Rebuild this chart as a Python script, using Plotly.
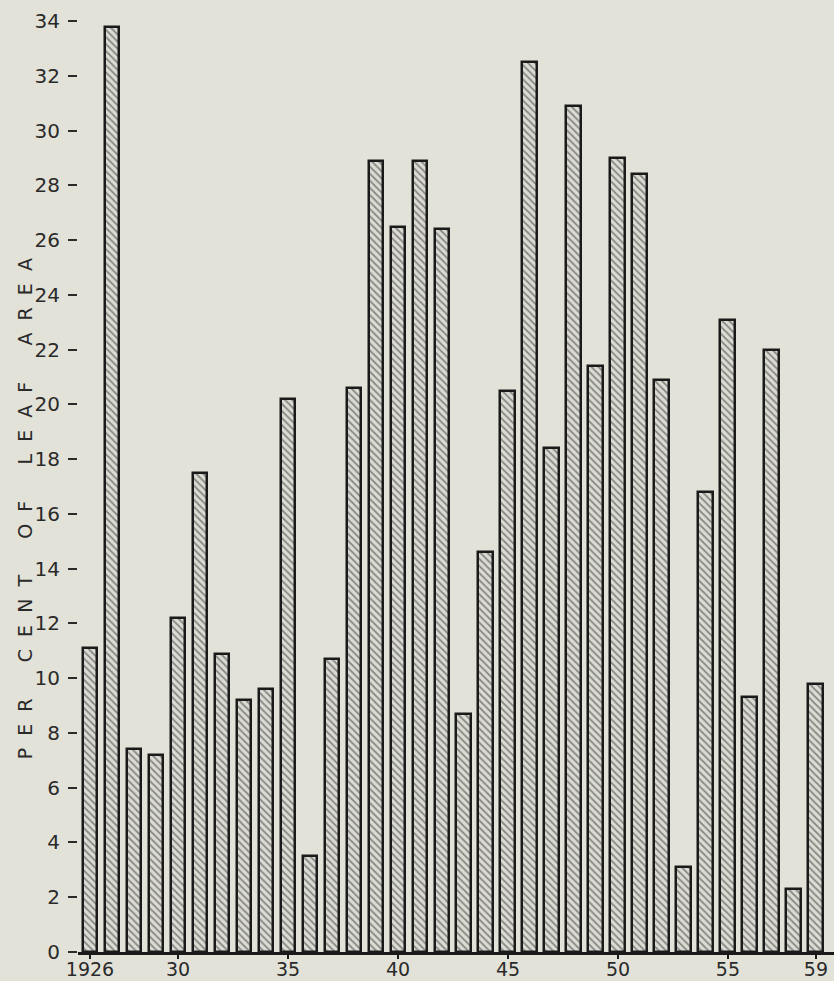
import plotly.graph_objects as go

years = list(range(1926, 1960))
percent = [11.1, 33.8, 7.4, 7.2, 12.2, 17.5, 10.9, 9.2, 9.6, 20.2,
           3.5, 10.7, 20.6, 28.9, 26.5, 28.9, 26.4, 8.7, 14.6, 20.5,
           32.5, 18.4, 30.9, 21.4, 29.0, 28.4, 20.9, 3.1, 16.8, 23.1,
           9.3, 22.0, 2.3, 9.8]
y_ticks = list(range(0, 35, 2))
x_tick_vals = [1926, 1930, 1935, 1940, 1945, 1950, 1955, 1959]
x_tick_text = ["1926", "30", "35", "40", "45", "50", "55", "59"]
y_title = "PER CENT OF LEAF AREA"

bg = "#e2e2d8"
ink = "#1a1a1a"

spaced_title = "      ".join("  ".join(word) for word in y_title.split(" "))

fig = go.Figure(go.Bar(
    x=years, y=percent, width=0.68,
    marker=dict(
        color="#d4d4cc",
        line=dict(color=ink, width=2.5),
        pattern=dict(shape="\\", fgcolor="#333333", bgcolor="#dcdcd4", size=5, solidity=0.35),
    ),
))

fig.update_layout(
    width=834, height=981,
    paper_bgcolor=bg, plot_bgcolor=bg,
    margin=dict(l=78, r=0, t=2, b=29),
    showlegend=False,
    font=dict(family="DejaVu Sans", color="#2a2a2a", size=20),
    bargap=0,
    annotations=[dict(
        text=spaced_title,
        textangle=-90, xref="paper", yref="paper",
        x=-78/756 + 25/756, y=0.466, xanchor="center", yanchor="middle",
        showarrow=False, font=dict(size=19, color="#2a2a2a"),
    )],
)
fig.update_xaxes(
    range=[1925.455, 1959.82], tickvals=x_tick_vals, ticktext=x_tick_text,
    showgrid=False, zeroline=False, showline=True, linecolor=ink, linewidth=3,
    ticks="outside", ticklen=4, tickwidth=1.5, tickcolor=ink,
    ticklabelstandoff=-6,
    tickfont=dict(size=19), automargin=False,
)
fig.update_yaxes(
    range=[0, 34.7], tickvals=y_ticks,
    showgrid=False, zeroline=False, showline=False,
    ticks="outside", ticklen=9, tickwidth=2, tickcolor="#2a2a2a",
    ticklabelstandoff=4,
    tickfont=dict(size=20), automargin=False,
)

fig.write_html("out.html", config={"displayModeBar": False},
               post_script="document.body.style.margin='0';document.body.style.background='%s';" % bg)
